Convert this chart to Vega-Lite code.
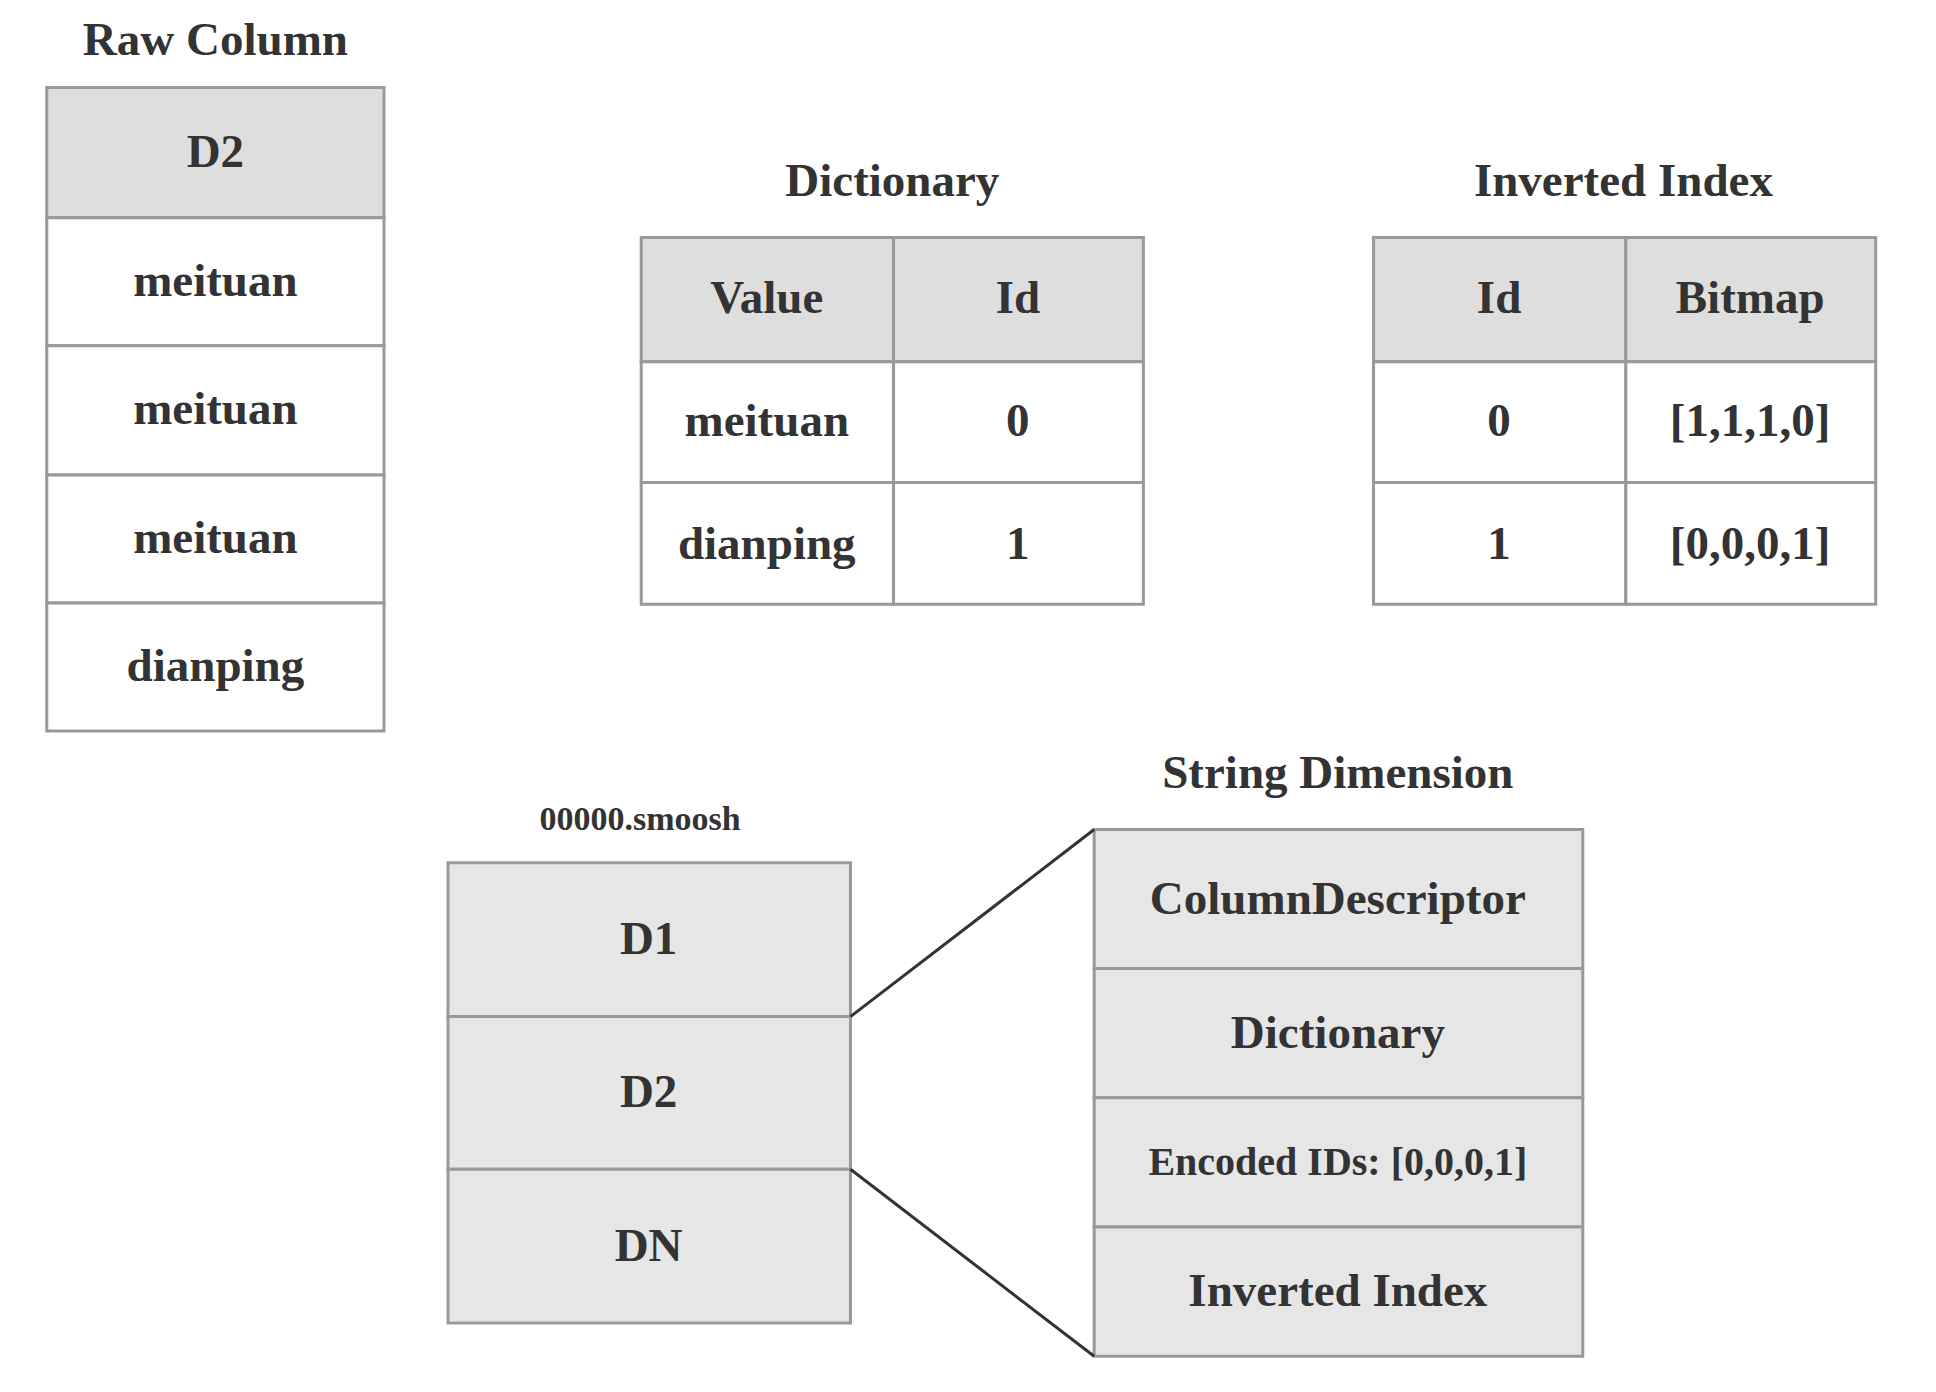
{
  "$schema": "https://vega.github.io/schema/vega-lite/v6.json",
  "autosize": {"type": "fit", "contains": "padding"},
  "width": 1936,
  "height": 1392,
  "padding": 0,
  "config": {"view": {"stroke": null}},
  "datasets": {
    "cells": [
      {"x": 38, "x2": 312, "y": 71, "y2": 177, "kind": "head"},
      {"x": 38, "x2": 312, "y": 177, "y2": 281, "kind": "body"},
      {"x": 38, "x2": 312, "y": 281, "y2": 386, "kind": "body"},
      {"x": 38, "x2": 312, "y": 386, "y2": 490, "kind": "body"},
      {"x": 38, "x2": 312, "y": 490, "y2": 594, "kind": "body"},
      {"x": 521, "x2": 726, "y": 193, "y2": 294, "kind": "head"},
      {"x": 726, "x2": 929, "y": 193, "y2": 294, "kind": "head"},
      {"x": 521, "x2": 726, "y": 294, "y2": 392, "kind": "body"},
      {"x": 726, "x2": 929, "y": 294, "y2": 392, "kind": "body"},
      {"x": 521, "x2": 726, "y": 392, "y2": 491, "kind": "body"},
      {"x": 726, "x2": 929, "y": 392, "y2": 491, "kind": "body"},
      {"x": 1116, "x2": 1321, "y": 193, "y2": 294, "kind": "head"},
      {"x": 1321, "x2": 1524, "y": 193, "y2": 294, "kind": "head"},
      {"x": 1116, "x2": 1321, "y": 294, "y2": 392, "kind": "body"},
      {"x": 1321, "x2": 1524, "y": 294, "y2": 392, "kind": "body"},
      {"x": 1116, "x2": 1321, "y": 392, "y2": 491, "kind": "body"},
      {"x": 1321, "x2": 1524, "y": 392, "y2": 491, "kind": "body"},
      {"x": 364, "x2": 691, "y": 701, "y2": 826, "kind": "block"},
      {"x": 364, "x2": 691, "y": 826, "y2": 950, "kind": "block"},
      {"x": 364, "x2": 691, "y": 950, "y2": 1075, "kind": "block"},
      {"x": 889, "x2": 1286, "y": 674, "y2": 787, "kind": "block"},
      {"x": 889, "x2": 1286, "y": 787, "y2": 892, "kind": "block"},
      {"x": 889, "x2": 1286, "y": 892, "y2": 997, "kind": "block"},
      {"x": 889, "x2": 1286, "y": 997, "y2": 1102, "kind": "block"}
    ],
    "links": [
      {"x": 691, "y": 826, "x2": 889, "y2": 674},
      {"x": 691, "y": 950, "x2": 889, "y2": 1102}
    ],
    "labels": [
      {"x": 175, "y": 33, "text": "Raw Column", "kind": "title"},
      {"x": 725, "y": 148, "text": "Dictionary", "kind": "title"},
      {"x": 1319, "y": 148, "text": "Inverted Index", "kind": "title"},
      {"x": 1087, "y": 629, "text": "String Dimension", "kind": "title"},
      {"x": 520, "y": 666, "text": "00000.smoosh", "kind": "small"},
      {"x": 175, "y": 124, "text": "D2", "kind": "cell"},
      {"x": 175, "y": 229, "text": "meituan", "kind": "cell"},
      {"x": 175, "y": 333, "text": "meituan", "kind": "cell"},
      {"x": 175, "y": 438, "text": "meituan", "kind": "cell"},
      {"x": 175, "y": 542, "text": "dianping", "kind": "cell"},
      {"x": 623, "y": 243, "text": "Value", "kind": "cell"},
      {"x": 827, "y": 243, "text": "Id", "kind": "cell"},
      {"x": 623, "y": 343, "text": "meituan", "kind": "cell"},
      {"x": 827, "y": 343, "text": "0", "kind": "cell"},
      {"x": 623, "y": 443, "text": "dianping", "kind": "cell"},
      {"x": 827, "y": 443, "text": "1", "kind": "cell"},
      {"x": 1218, "y": 243, "text": "Id", "kind": "cell"},
      {"x": 1422, "y": 243, "text": "Bitmap", "kind": "cell"},
      {"x": 1218, "y": 343, "text": "0", "kind": "cell"},
      {"x": 1422, "y": 343, "text": "[1,1,1,0]", "kind": "cell"},
      {"x": 1218, "y": 443, "text": "1", "kind": "cell"},
      {"x": 1422, "y": 443, "text": "[0,0,0,1]", "kind": "cell"},
      {"x": 527, "y": 764, "text": "D1", "kind": "cell"},
      {"x": 527, "y": 888, "text": "D2", "kind": "cell"},
      {"x": 527, "y": 1013, "text": "DN", "kind": "cell"},
      {"x": 1087, "y": 731, "text": "ColumnDescriptor", "kind": "cell"},
      {"x": 1087, "y": 840, "text": "Dictionary", "kind": "cell"},
      {"x": 1087, "y": 945, "text": "Encoded IDs: [0,0,0,1]", "kind": "mid"},
      {"x": 1087, "y": 1050, "text": "Inverted Index", "kind": "cell"}
    ]
  },
  "layer": [
    {
      "data": {"name": "cells"},
      "mark": {"type": "rect", "stroke": "#999999", "strokeWidth": 3},
      "encoding": {
        "x": {"field": "x", "type": "quantitative", "scale": {"domain": [0, 1573], "nice": false, "zero": false}, "axis": null},
        "x2": {"field": "x2"},
        "y": {"field": "y", "type": "quantitative", "scale": {"domain": [0, 1131], "reverse": true, "nice": false, "zero": false}, "axis": null},
        "y2": {"field": "y2"},
        "color": {"field": "kind", "type": "nominal", "scale": {"domain": ["head", "body", "block"], "range": ["#dedede", "#ffffff", "#e6e6e6"]}, "legend": null}
      }
    },
    {
      "data": {"name": "links"},
      "mark": {"type": "rule", "color": "#333333", "strokeWidth": 3},
      "encoding": {
        "x": {"field": "x", "type": "quantitative"},
        "y": {"field": "y", "type": "quantitative"},
        "x2": {"field": "x2"},
        "y2": {"field": "y2"}
      }
    },
    {
      "data": {"name": "labels"},
      "transform": [{"filter": "datum.kind == 'title'"}],
      "mark": {"type": "text", "font": "Liberation Serif", "fontWeight": "bold", "fontSize": 47, "color": "#333333", "baseline": "middle"},
      "encoding": {"x": {"field": "x", "type": "quantitative"}, "y": {"field": "y", "type": "quantitative"}, "text": {"field": "text"}}
    },
    {
      "data": {"name": "labels"},
      "transform": [{"filter": "datum.kind == 'cell'"}],
      "mark": {"type": "text", "font": "Liberation Serif", "fontWeight": "bold", "fontSize": 47, "color": "#333333", "baseline": "middle"},
      "encoding": {"x": {"field": "x", "type": "quantitative"}, "y": {"field": "y", "type": "quantitative"}, "text": {"field": "text"}}
    },
    {
      "data": {"name": "labels"},
      "transform": [{"filter": "datum.kind == 'mid'"}],
      "mark": {"type": "text", "font": "Liberation Serif", "fontWeight": "bold", "fontSize": 40, "color": "#333333", "baseline": "middle"},
      "encoding": {"x": {"field": "x", "type": "quantitative"}, "y": {"field": "y", "type": "quantitative"}, "text": {"field": "text"}}
    },
    {
      "data": {"name": "labels"},
      "transform": [{"filter": "datum.kind == 'small'"}],
      "mark": {"type": "text", "font": "Liberation Serif", "fontWeight": "bold", "fontSize": 34, "color": "#333333", "baseline": "middle"},
      "encoding": {"x": {"field": "x", "type": "quantitative"}, "y": {"field": "y", "type": "quantitative"}, "text": {"field": "text"}}
    }
  ]
}
